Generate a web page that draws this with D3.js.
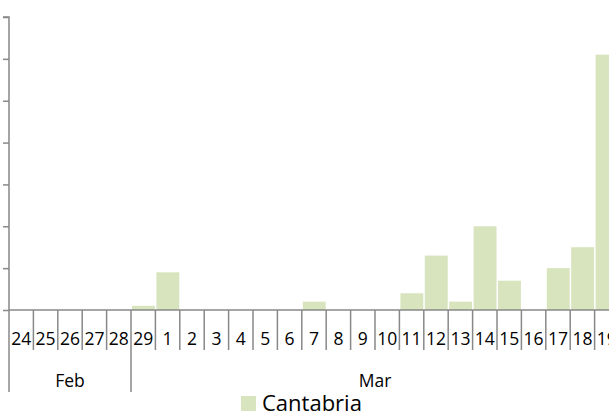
<!DOCTYPE html>
<html><head><meta charset="utf-8">
<script src="https://cdn.jsdelivr.net/npm/d3@7"></script>
<style>body{margin:0;background:#fff}svg{display:block}text{font-family:"Open Sans","Liberation Sans",sans-serif}</style>
</head><body><svg id="c" width="609" height="416"></svg>
<script>
const days = ["24","25","26","27","28","29","1","2","3","4","5","6","7","8","9","10","11","12","13","14","15","16","17","18","19"];
const months = ["Feb","Feb","Feb","Feb","Feb","Mar","Mar","Mar","Mar","Mar","Mar","Mar","Mar","Mar","Mar","Mar","Mar","Mar","Mar","Mar","Mar","Mar","Mar","Mar","Mar"];
const cantabria = [0,0,0,0,0,1,9,0,0,0,0,0,2,0,0,0,4,13,2,20,7,0,10,15,61];
const yTicks = [0,10,20,30,40,50,60,70];
const seriesName = "Cantabria";

const svg = d3.select("#c");
const keys = days.map((d,i)=>i);
const x = d3.scaleBand().domain(keys).range([9,619]).padding(0);
const y = d3.scaleLinear().domain([0,70]).range([310,17]);
const axisCol = "#888888";

svg.append("g").selectAll("rect").data(cantabria).join("rect")
  .attr("x",(d,i)=>x(i)+1).attr("width",x.bandwidth()-1.5)
  .attr("y",d=>y(d)).attr("height",d=>y(0)-y(d))
  .attr("fill","#d7e4bd");

const ya = svg.append("g").attr("transform","translate(9,0)")
  .call(d3.axisLeft(y).tickValues(yTicks).tickSize(6).tickFormat(""));
ya.selectAll("path,line").attr("stroke",axisCol).attr("stroke-width",1.5);
ya.select("path").attr("d","M-6,"+y(70)+"H0V"+y(0));

svg.append("line").attr("x1",9).attr("x2",619).attr("y1",y(0)).attr("y2",y(0))
  .attr("stroke",axisCol).attr("stroke-width",1.5);
const bounds = keys.map(i=>x(i)).concat([x(keys.length-1)+x.bandwidth()]);
svg.append("g").selectAll("line").data(bounds).join("line")
  .attr("x1",d=>d).attr("x2",d=>d).attr("y1",y(0)).attr("y2",(d,i)=>{
    const isMonth = i===0 || i===bounds.length-1 || months[i]!==months[i-1];
    return isMonth?392:350;})
  .attr("stroke",axisCol).attr("stroke-width",1.5);
svg.append("g").selectAll("text").data(days).join("text")
  .attr("x",(d,i)=>x(i)+x.bandwidth()/2).attr("y",344.5)
  .attr("text-anchor","middle").attr("font-size",17.5).attr("fill","#000").text(d=>d);
const monthGroups = d3.groups(keys, i=>months[i]);
svg.append("g").selectAll("text").data(monthGroups).join("text")
  .attr("x",g=>(x(g[1][0])+x(g[1][g[1].length-1])+x.bandwidth())/2).attr("y",387)
  .attr("text-anchor","middle").attr("font-size",17.5).attr("fill","#000").text(g=>g[0]);
svg.append("rect").attr("x",241).attr("y",396).attr("width",15).attr("height",15).attr("fill","#d7e4bd");
svg.append("text").attr("x",262).attr("y",411).attr("font-size",22).attr("fill","#000").text(seriesName);
</script></body></html>
